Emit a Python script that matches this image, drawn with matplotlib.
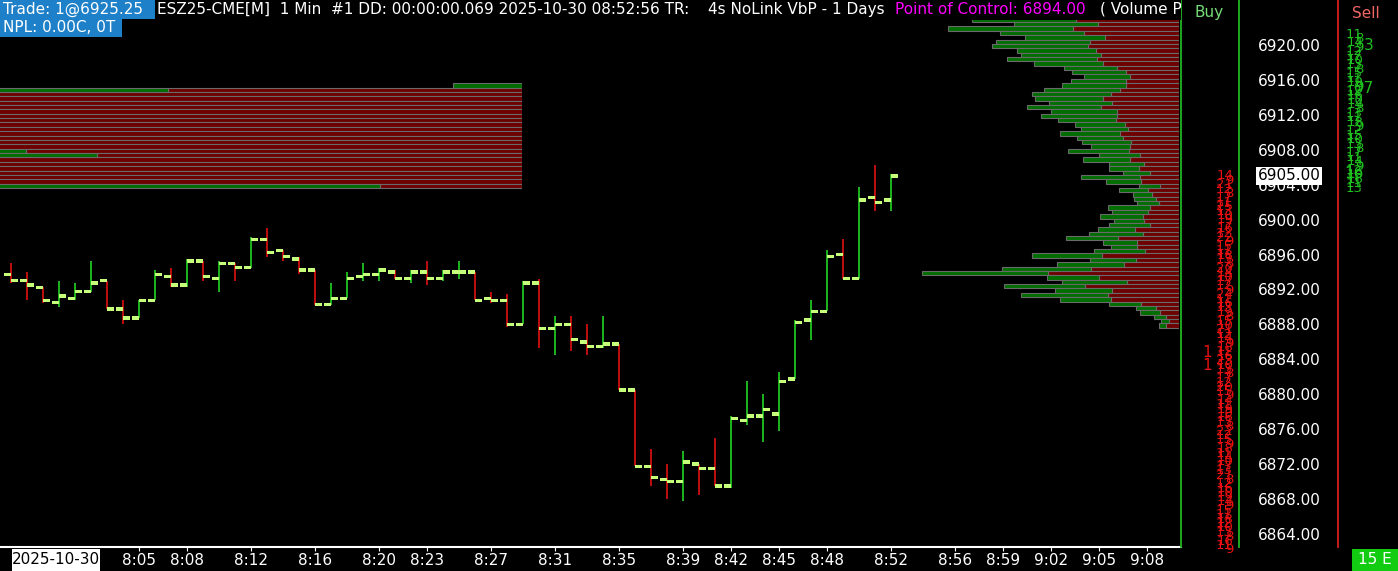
import numpy as np
import matplotlib
matplotlib.use("Agg")
import matplotlib.pyplot as plt
from matplotlib import transforms
from matplotlib.patches import Rectangle

# 1 min bars, first one at 7:57
first_bar = "7:57"
bar_open = [6893.75, 6893.0, 6892.25, 6890.5, 6891.0, 6891.75, 6893.0, 6889.75, 6888.75, 6890.75,
            6893.5, 6892.5, 6895.25, 6893.25, 6895.0, 6894.5, 6897.75, 6896.5, 6895.5, 6894.25,
            6890.25, 6891.0, 6893.5, 6893.75, 6894.0, 6893.25, 6894.0, 6893.25, 6894.0, 6894.0,
            6891.0, 6890.75, 6888.0, 6892.75, 6887.5, 6888.0, 6886.0, 6885.5, 6885.75, 6880.5,
            6871.75, 6870.25, 6870.0, 6872.0, 6871.5, 6869.5, 6877.0, 6877.5, 6877.75, 6881.75,
            6888.5, 6889.5, 6896.0, 6893.25, 6902.5, 6902.25]
bar_high = [6895.0, 6894.0, 6892.25, 6893.0, 6892.75, 6895.25, 6893.0, 6890.75, 6890.75, 6894.25,
            6894.5, 6895.5, 6895.25, 6895.25, 6895.0, 6898.0, 6899.0, 6896.5, 6895.75, 6894.25,
            6892.75, 6894.0, 6895.0, 6894.5, 6894.25, 6894.25, 6895.25, 6894.25, 6895.25, 6894.0,
            6891.75, 6891.5, 6893.0, 6893.25, 6889.0, 6889.0, 6888.0, 6889.0, 6885.75, 6880.5,
            6873.75, 6872.0, 6873.5, 6872.0, 6875.0, 6877.5, 6881.5, 6880.0, 6882.5, 6888.5,
            6890.75, 6896.5, 6897.75, 6903.75, 6906.25, 6905.25]
bar_low = [6892.75, 6890.75, 6890.5, 6890.0, 6890.75, 6891.75, 6889.75, 6888.0, 6888.75, 6890.75,
           6892.25, 6892.25, 6893.0, 6891.75, 6893.0, 6894.5, 6895.75, 6895.25, 6893.75, 6890.25,
           6890.25, 6891.0, 6893.0, 6893.0, 6893.25, 6892.75, 6892.5, 6893.0, 6893.25, 6890.75,
           6890.5, 6887.75, 6888.0, 6885.25, 6884.5, 6885.0, 6884.5, 6885.25, 6880.5, 6871.75,
           6869.5, 6868.0, 6867.75, 6868.5, 6869.5, 6869.25, 6876.5, 6874.5, 6875.75, 6881.75,
           6886.25, 6889.5, 6893.25, 6893.25, 6901.0, 6901.0]
bar_close = [6893.0, 6892.5, 6890.75, 6891.25, 6891.75, 6892.75, 6889.75, 6888.75, 6890.75, 6893.75,
             6892.5, 6895.25, 6893.5, 6895.0, 6894.5, 6897.75, 6896.25, 6895.75, 6894.25, 6890.25,
             6891.0, 6893.25, 6893.75, 6894.25, 6893.25, 6894.0, 6893.25, 6894.0, 6894.0, 6890.75,
             6890.75, 6888.0, 6892.75, 6887.5, 6888.0, 6886.25, 6885.5, 6885.75, 6880.5, 6871.75,
             6870.5, 6870.0, 6872.25, 6871.5, 6869.5, 6877.25, 6877.5, 6878.25, 6881.5, 6888.25,
             6889.5, 6895.75, 6893.25, 6902.25, 6902.0, 6905.0]

# volume profile (1 day), rows of 2 ticks, first row top tick
vp_top = 6923.0
vp_buy = [413, 336, 499, 335, 319, 375, 384, 316, 320, 360,
          275, 211, 215, 184, 219, 255, 303, 315, 271, 251,
          295, 263, 303, 231, 199, 187, 239, 183, 195, 155,
          243, 163, 187, 139, 119, 107, 235, 139, 83, 115,
          75, 87, 88, 167, 143, 171, 119, 163, 147, 215,
          207, 135, 103, 203, 279, 183, 267, 355, 503, 207,
          259, 323, 227, 347, 203, 127, 79, 79, 47, 31,
          27]
vp_sell = [415, 324, 425, 381, 297, 357, 364, 332, 312, 328,
           305, 249, 213, 196, 213, 213, 237, 273, 305, 269,
           313, 249, 249, 253, 217, 205, 237, 225, 193, 197,
           201, 157, 197, 141, 161, 117, 157, 153, 77, 125,
           109, 93, 80, 117, 125, 145, 141, 117, 177, 145,
           245, 169, 169, 137, 309, 173, 221, 353, 525, 321,
           209, 377, 269, 285, 273, 153, 93, 77, 53, 41,
           53]

# older profile block on the left (mostly cut off by the chart edge)
lb_top = 6915.5
lb_buy = [276, 900, 300, 250, 400, 350, 280, 420, 310, 260, 380, 330,
          290, 360, 300, 200, 500, 340, 270, 310, 390, 260, 330, 1600]
lb_sell = [0, 1416, 2300, 2450, 2200, 2350, 2500, 2250, 2400, 2300, 2550, 2200,
           2350, 2450, 2150, 1984, 1700, 2250, 2400, 2300, 2200, 2500, 2350, 568]

# buy / sell columns (one value per half point, printed on top of each other)
buy_col_top = 6905.75
buy_col_vals = ["14", "9", "21", "12", "8", "17", "11", "25", "13", "10",
                "19", "7", "16", "12", "22", "9", "15", "11", "18", "13",
                "8", "20", "14", "10", "17", "12", "9", "24", "11", "16",
                "13", "19", "8", "15", "10", "21", "12", "14", "9", "18",
                "11", "16", "23", "10", "13", "8", "17", "12", "20", "15",
                "9", "14", "11", "19", "10", "16", "13", "8", "22", "12",
                "15", "9", "18", "11", "14", "10", "17", "13", "21", "8",
                "12", "16", "10", "19", "14", "9", "15", "11", "18", "12",
                "10", "13", "8", "16", "11", "9"]
sell_col_top = 6922.0
sell_col_vals = ["11", "8", "14", "9", "12", "17", "10", "13", "8", "15",
                 "11", "19", "9", "12", "16", "10", "14", "8", "13", "11",
                 "18", "9", "12", "15", "10", "13", "8", "17", "11", "14",
                 "9", "12", "10", "16", "11", "13"]
buy_big = [(6884.75, "1"), (6883.25, "1")]
sell_big = [(6920.0, "3"), (6915.0, "07"), (6905.25, "16")]

time_labels = ["8:05", "8:08", "8:12", "8:16", "8:20", "8:23", "8:27", "8:31", "8:35", "8:39",
               "8:42", "8:45", "8:48", "8:52", "8:56", "8:59", "9:02", "9:05", "9:08"]

W, H = 1398, 571
PX_PER_PT = 8.732
PX_PER_MIN = 16.0
X_0800 = 59.3
VOL_PER_PX = 4.0

UP = "#22d422"
DN = "#e01010"
BODY = "#c6ff7a"
VP_GREEN = "#006e00"
VP_RED = "#6e0000"
VP_EDGE = "#6a6a6a"
BLUE = "#1e80c8"


def to_min(s):
    h, m = s.split(":")
    return int(h) * 60 + int(m) - 480


def frect(x0, y0, x1, y1):
    return [x0 / W, 1 - y1 / H, (x1 - x0) / W, (y1 - y0) / H]


fig = plt.figure(figsize=(W / 100, H / 100), dpi=100, facecolor="black")
PX = transforms.Affine2D().scale(1 / W, -1 / H).translate(0, 1) + fig.transFigure

price_top = 6920 + 45 / PX_PER_PT
price_bot = 6920 - (547 - 45) / PX_PER_PT

# main price pane
ax = fig.add_axes(frect(0, 0, 1181, 547))
ax.set_facecolor("black")
ax.set_ylim(price_bot, price_top)
ax.set_xlim((0 - X_0800) / PX_PER_MIN, (1181 - X_0800) / PX_PER_MIN)
for s in ["top", "left", "right"]:
    ax.spines[s].set_visible(False)
ax.spines["bottom"].set_color("white")
ax.spines["bottom"].set_linewidth(1.5)

t = np.arange(len(bar_close)) + to_min(first_bar)
o = np.array(bar_open)
c = np.array(bar_close)
cols = [UP if cc >= oo else DN for oo, cc in zip(o, c)]
ax.vlines(t, bar_low, bar_high, colors=cols, lw=1.2, zorder=2)
rw, rh = 0.44, 0.38
ax.bar(t, rh, width=-rw, bottom=o - rh / 2, align="edge", color=BODY, lw=0, zorder=3)
ax.bar(t, rh, width=rw, bottom=c - rh / 2, align="edge", color=BODY, lw=0, zorder=3)

ax.set_xticks([to_min(s) for s in time_labels])
ax.set_xticklabels(time_labels)
ax.tick_params(axis="x", colors="white", labelsize=11, length=3, pad=1)
ax.yaxis.tick_right()
ax.set_yticks(np.arange(6864, 6921, 4))
ax.yaxis.set_major_formatter("{x:.2f}")
ax.tick_params(axis="y", colors="white", labelsize=11, length=0, pad=55)


def profile(rect, anchor_px, top, buy, sell):
    a = fig.add_axes(rect)
    a.set_ylim(price_bot, price_top)
    a.set_xlim(anchor_px * VOL_PER_PX, 0)
    a.axis("off")
    rows = top - 0.125 - 0.5 * np.arange(len(buy))
    a.barh(rows, sell, left=0, height=0.5, color=VP_RED, edgecolor=VP_EDGE, lw=0.8)
    a.barh(rows, buy, left=sell, height=0.5, color=VP_GREEN, edgecolor=VP_EDGE, lw=0.8)
    return a


profile(frect(0, 0, 1179.3, 547), 1179.3, vp_top, vp_buy, vp_sell)
profile(frect(0, 0, 522, 547), 522, lb_top, lb_buy, lb_sell)

# buy / sell columns
ax_buy = fig.add_axes(frect(1181, 0, 1239, 547))
ax_sell = fig.add_axes(frect(1338, 0, 1398 + 5, 547))
for a, edge in [(ax_buy, "#22b522"), (ax_sell, "#d42020")]:
    a.set_facecolor("black")
    a.set_xticks([])
    a.set_yticks([])
    for s in a.spines.values():
        s.set_visible(False)
    a.spines["left"].set_visible(True)
    a.spines["left"].set_color(edge)
    a.spines["left"].set_linewidth(1.3)
ax_buy.spines["right"].set_visible(True)
ax_buy.spines["right"].set_color("#22b522")
ax_buy.spines["right"].set_linewidth(1.3)

col_tr = transforms.blended_transform_factory(PX, ax.transData)
# the numbers sit half a point apart, so they pile up into a dense column
fig.text(1233, buy_col_top, "\n".join(buy_col_vals), transform=col_tr, color="#e81010",
         fontsize=9.5, ha="right", va="top", multialignment="right", linespacing=0.14, zorder=3)
fig.text(1363, sell_col_top, "\n".join(sell_col_vals), transform=col_tr, color="#1fbf1f",
         fontsize=9.5, ha="right", va="top", multialignment="right", linespacing=0.14, zorder=3)
for p, s in buy_big:
    fig.text(1207, p, s, transform=col_tr, color="#e81010", fontsize=11,
             ha="center", va="center", zorder=3)
for (p, s), x in zip(sell_big, [1369, 1364, 1354]):
    fig.text(x, p, s, transform=col_tr, color="#1fbf1f", fontsize=11,
             ha="center", va="center", zorder=3)

fig.text(1209, 13, "Buy", transform=PX, color="#77dd77", fontsize=11, ha="center", va="center", zorder=3)
fig.text(1366, 13, "Sell", transform=PX, color="#ee6666", fontsize=11, ha="center", va="center", zorder=3)

# last price marker
fig.text(1257.5, bar_close[-1], f"{bar_close[-1]:.2f}", transform=col_tr, color="black",
         fontsize=11, ha="left", va="center", zorder=4,
         bbox=dict(boxstyle="square,pad=0.12", facecolor="white", edgecolor="none"))

# header
fig.add_artist(Rectangle((0, 0), 1181, 19.5, transform=PX, facecolor="black", lw=0, zorder=1))
fig.add_artist(Rectangle((0, 0), 155, 18.5, transform=PX, facecolor=BLUE, lw=0, zorder=1.5))
fig.add_artist(Rectangle((0, 18.5), 122, 18.5, transform=PX, facecolor=BLUE, lw=0, zorder=1.5))
hdr = [("Trade: 1@6925.25", 3, 9.5, "white"),
       ("ESZ25-CME[M]  1 Min  #1 DD: 00:00:00.069 2025-10-30 08:52:56 TR:", 157, 9.5, "white"),
       ("4s NoLink VbP - 1 Days", 708, 9.5, "white"),
       ("Point of Control: 6894.00", 895, 9.5, "#ff00ff"),
       ("( Volume Pr", 1100, 9.5, "white"),
       ("NPL: 0.00C, 0T", 3, 28, "white")]
for s, x, y, col in hdr:
    tx = fig.text(x, y, s, transform=PX, color=col, fontsize=11, ha="left", va="center", zorder=2)
    tx.set_clip_box(ax.bbox)
    tx.set_clip_on(True)

# bottom bar
fig.add_artist(Rectangle((12, 549), 88, 22, transform=PX, facecolor="white", lw=0, zorder=1.5))
fig.text(56, 560, "2025-10-30", transform=PX, color="black", fontsize=11, ha="center", va="center", zorder=2)
fig.add_artist(Rectangle((1352, 549), 46, 22, transform=PX, facecolor="#11cc11", lw=0, zorder=1.5))
fig.text(1375, 560, "15 E", transform=PX, color="white", fontsize=11, ha="center", va="center", zorder=2)

fig.savefig("out.png", dpi=100, facecolor="black")
